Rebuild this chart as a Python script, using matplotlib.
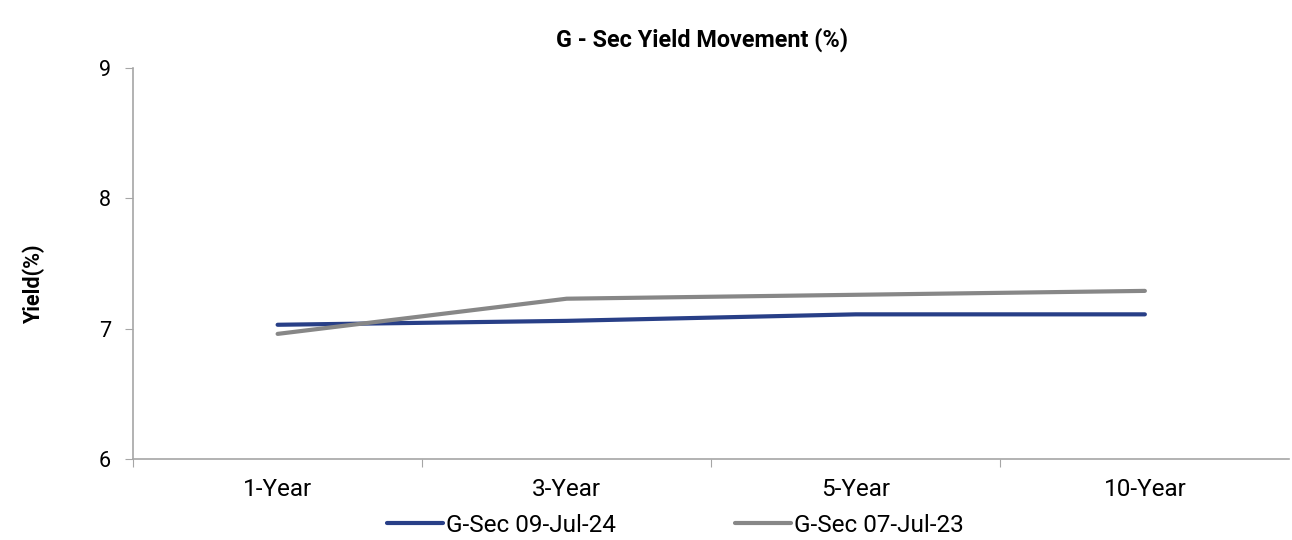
import matplotlib.pyplot as plt

# --------------------

tenors = ["1-Year", "3-Year", "5-Year", "10-Year"]
yield_jul24 = [7.03, 7.06, 7.11, 7.11]
yield_jul23 = [6.96, 7.23, 7.26, 7.29]

plt.rcParams["font.family"] = ["Roboto", "DejaVu Sans"]

# --------------------

fig = plt.figure(figsize = (12.92, 5.40), dpi = 100)
ax = fig.add_axes([0.103, 0.15, 0.895, 0.724])

x = range(len(tenors))
ax.plot(x, yield_jul24, color = "#283f87", linewidth = 3, label = "G-Sec 09-Jul-24", solid_capstyle = "round")
ax.plot(x, yield_jul23, color = "#878787", linewidth = 3, label = "G-Sec 07-Jul-23", solid_capstyle = "round")

ax.set_xlim(-0.5, 3.5)
ax.set_ylim(6, 9)
ax.set_yticks([6, 7, 8, 9])
ax.set_xticks([-0.5, 0.5, 1.5, 2.5])
ax.set_xticklabels([])
ax.set_xticks(list(x), minor = True)
ax.set_xticklabels(tenors, minor = True)
ax.tick_params(axis = "x", which = "minor", length = 0, pad = 14, labelsize = 17.5)
ax.tick_params(axis = "x", which = "major", length = 6, color = "#a6a6a6")
ax.tick_params(axis = "y", length = 6, color = "#a6a6a6", labelsize = 15.5, pad = 10)

for s in ["top", "right"]:
    ax.spines[s].set_visible(False)
for s in ["left", "bottom"]:
    ax.spines[s].set_color("#a6a6a6")
    ax.spines[s].set_linewidth(1.2)

ax.set_ylabel("Yield(%)", fontsize = 15.5, fontweight = "bold")
ax.yaxis.set_label_coords(-0.076, 0.446)
fig.text(0.543, 0.926, "G - Sec Yield Movement (%)", ha = "center", va = "center", fontsize = 16.8, fontweight = "bold")

ax.legend(loc = "center", bbox_to_anchor = (0.469, -0.17), ncol = 2, frameon = False,
          fontsize = 17.5, handlelength = 2.3, handletextpad = 0.12, columnspacing = 4.9)

plt.savefig("out.png", dpi = 100)
